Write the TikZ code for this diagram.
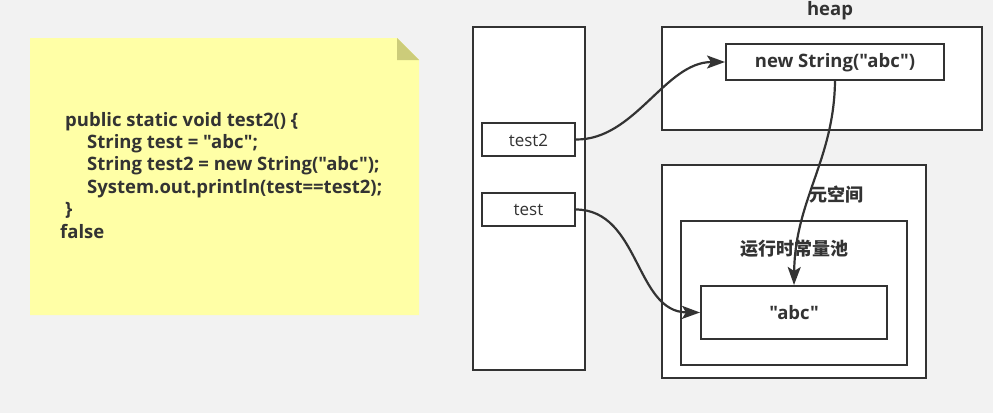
\documentclass[tikz,border=0pt]{standalone}
\usepackage{fontspec}
\setmainfont{Open Sans}[Ligatures=TeXOff]
\newfontfamily\cjk{Noto Sans CJK SC}
\usetikzlibrary{arrows.meta}
\definecolor{bg}{HTML}{F2F2F2}
\definecolor{ink}{HTML}{333333}
\definecolor{note}{HTML}{FFFFA6}
\definecolor{fold}{HTML}{CCCC7A}
\begin{document}
\begin{tikzpicture}[x=1pt,y=-1pt,
  box/.style={draw=ink,line width=2pt,fill=white,inner sep=0pt},
  lbl/.style={text=ink,font=\bfseries\fontsize{18.5}{20}\selectfont,inner sep=0pt},
  cjklbl/.style={text=ink,font=\cjk\bfseries\fontsize{18}{20}\selectfont,inner sep=0pt},
  reg/.style={text=ink,font=\fontsize{17}{20}\selectfont,inner sep=0pt},
  code/.style={text=ink,font=\bfseries\fontsize{18.5}{20}\selectfont,inner sep=0pt,anchor=base west},
  arr/.style={draw=ink,line width=2.2pt,-{Stealth[length=18pt,width=13pt,inset=4pt]}}]
\fill[bg] (0,0) rectangle (993,413);
\useasboundingbox (0,0) rectangle (993,413);
% note
\fill[note] (30,38) -- (397,38) -- (419,60) -- (419,315) -- (30,315) -- cycle;
\fill[fold] (397,38) -- (419,60) -- (397,60) -- cycle;
\node[code] (c1) at (65,126) {public static void test2() \{};
\node[code] (c2) at (87,148) {String test = "abc";};
\node[code] (c3) at (87,170) {String test2 = new String("abc");};
\node[code] (c4) at (87,193) {System.out.println(test==test2);};
\node[code] (c5) at (65,215) {\}};
\node[code] (c6) at (60,238) {false};
% stack
\node[box,minimum width=112pt,minimum height=343pt] (stack) at (529,198.5) {};
\node[box,minimum width=93pt,minimum height=33pt] (test2) at (528.5,139.5) {};
\node[reg] (t2l) at (528.5,140) {test2};
\node[box,minimum width=93pt,minimum height=33pt] (test) at (528.5,209.5) {};
\node[reg] (tl) at (528.5,210) {test};
% heap
\node[lbl] (heapl) at (830,11) {heap};
\node[box,minimum width=320pt,minimum height=103pt] (heap) at (822,78.5) {};
\node[box,minimum width=218pt,minimum height=36pt] (newstr) at (835,62) {};
\node[lbl] (nsl) at (835,63) {new String("abc")};
% metaspace
\node[box,minimum width=264pt,minimum height=213pt] (meta) at (794,271.5) {};
\node[cjklbl] (metal) at (836,195) {元空间};
\node[box,minimum width=226pt,minimum height=144pt] (pool) at (794,293) {};
\node[cjklbl] (pooll) at (794,249) {运行时常量池};
\node[box,minimum width=186pt,minimum height=53pt] (abc) at (794,312.5) {};
\node[lbl] (abcl) at (794,313) {"abc"};
% arrows
\draw[arr] (test2.east) .. controls (635,140) and (665,62) .. (newstr.west);
\draw[arr] (test.east) .. controls (640,210) and (635,312) .. (abc.west);
\draw[arr] (newstr.south) .. controls (834,160) and (795,200) .. (abc.north);
\end{tikzpicture}
\end{document}
